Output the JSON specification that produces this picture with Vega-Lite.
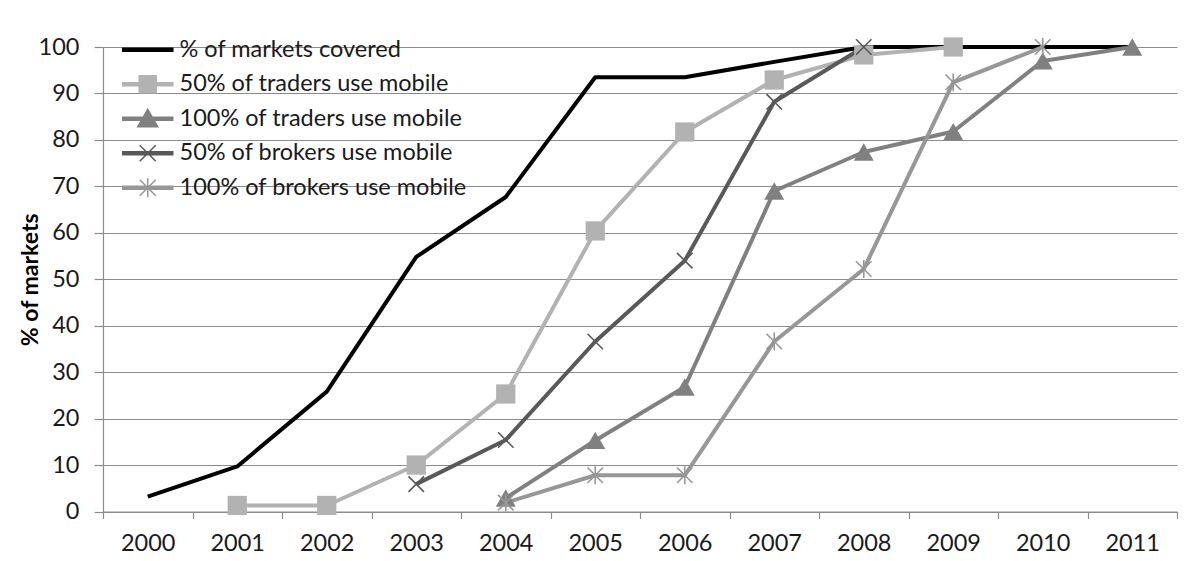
{
  "$schema": "https://vega.github.io/schema/vega-lite/v6.json",
  "autosize": {"type": "none"},
  "padding": {"left": 103, "top": 47, "right": 27, "bottom": 50},
  "width": 1074,
  "height": 464.5,
  "background": "white",
  "config": {
    "font": "Lato",
    "view": {"stroke": null},
    "axis": {
      "domainColor": "#8c8c8c",
      "tickColor": "#8c8c8c",
      "gridColor": "#8c8c8c",
      "domainWidth": 1.2,
      "tickWidth": 1.2,
      "gridWidth": 1.2,
      "labelFont": "Lato",
      "labelFontSize": 23.5,
      "labelColor": "#1a1a1a",
      "titleFont": "Lato",
      "titleColor": "#000000"
    },
    "legend": {"labelFont": "Lato"}
  },
  "data": {
    "values": [
      {"year": "2000", "series": "% of markets covered", "value": 3.2},
      {"year": "2001", "series": "% of markets covered", "value": 9.7},
      {"year": "2002", "series": "% of markets covered", "value": 25.8},
      {"year": "2003", "series": "% of markets covered", "value": 54.8},
      {"year": "2004", "series": "% of markets covered", "value": 67.7},
      {"year": "2005", "series": "% of markets covered", "value": 93.5},
      {"year": "2006", "series": "% of markets covered", "value": 93.5},
      {"year": "2007", "series": "% of markets covered", "value": 96.8},
      {"year": "2008", "series": "% of markets covered", "value": 100},
      {"year": "2009", "series": "% of markets covered", "value": 100},
      {"year": "2010", "series": "% of markets covered", "value": 100},
      {"year": "2011", "series": "% of markets covered", "value": 100},

      {"year": "2001", "series": "50% of traders use mobile", "value": 1.3},
      {"year": "2002", "series": "50% of traders use mobile", "value": 1.3},
      {"year": "2003", "series": "50% of traders use mobile", "value": 10.0},
      {"year": "2004", "series": "50% of traders use mobile", "value": 25.3},
      {"year": "2005", "series": "50% of traders use mobile", "value": 60.4},
      {"year": "2006", "series": "50% of traders use mobile", "value": 81.7},
      {"year": "2007", "series": "50% of traders use mobile", "value": 92.9},
      {"year": "2008", "series": "50% of traders use mobile", "value": 98.3},
      {"year": "2009", "series": "50% of traders use mobile", "value": 100},

      {"year": "2004", "series": "100% of traders use mobile", "value": 2.9},
      {"year": "2005", "series": "100% of traders use mobile", "value": 15.3},
      {"year": "2006", "series": "100% of traders use mobile", "value": 26.8},
      {"year": "2007", "series": "100% of traders use mobile", "value": 69.0},
      {"year": "2008", "series": "100% of traders use mobile", "value": 77.4},
      {"year": "2009", "series": "100% of traders use mobile", "value": 81.8},
      {"year": "2010", "series": "100% of traders use mobile", "value": 97.0},
      {"year": "2011", "series": "100% of traders use mobile", "value": 100},

      {"year": "2003", "series": "50% of brokers use mobile", "value": 5.9},
      {"year": "2004", "series": "50% of brokers use mobile", "value": 15.4},
      {"year": "2005", "series": "50% of brokers use mobile", "value": 36.6},
      {"year": "2006", "series": "50% of brokers use mobile", "value": 54.0},
      {"year": "2007", "series": "50% of brokers use mobile", "value": 88.2},
      {"year": "2008", "series": "50% of brokers use mobile", "value": 100},

      {"year": "2004", "series": "100% of brokers use mobile", "value": 1.9},
      {"year": "2005", "series": "100% of brokers use mobile", "value": 7.8},
      {"year": "2006", "series": "100% of brokers use mobile", "value": 7.8},
      {"year": "2007", "series": "100% of brokers use mobile", "value": 36.6},
      {"year": "2008", "series": "100% of brokers use mobile", "value": 52.2},
      {"year": "2009", "series": "100% of brokers use mobile", "value": 92.4},
      {"year": "2010", "series": "100% of brokers use mobile", "value": 100}
    ]
  },
  "encoding": {
    "x": {
      "field": "year",
      "type": "ordinal",
      "scale": {"type": "band", "paddingInner": 0, "paddingOuter": 0},
      "axis": {
        "title": null,
        "labelAngle": 0,
        "tickBand": "extent",
        "tickSize": 7,
        "labelPadding": 13,
        "grid": false
      }
    },
    "y": {
      "field": "value",
      "type": "quantitative",
      "scale": {"domain": [0, 100], "nice": false},
      "axis": {
        "title": "% of markets",
        "titleFontSize": 23,
        "titleFontWeight": "bold",
        "titlePadding": -4,
        "values": [0, 10, 20, 30, 40, 50, 60, 70, 80, 90, 100],
        "tickSize": 9,
        "labelPadding": 15,
        "grid": true
      }
    },
    "color": {
      "field": "series",
      "type": "nominal",
      "scale": {
        "domain": ["% of markets covered", "50% of traders use mobile", "100% of traders use mobile", "50% of brokers use mobile", "100% of brokers use mobile"],
        "range": ["#000000", "#b2b2b2", "#808080", "#595959", "#979797"]
      },
      "legend": {
        "orient": "none",
        "legendX": 33,
        "legendY": -9,
        "title": null,
        "padding": 0,
        "symbolSize": 400,
        "labelFontSize": 23.5,
        "labelLimit": 500,
        "labelColor": "#1a1a1a",
        "labelOffset": 20,
        "rowPadding": 9.5,
        "encode": {
          "symbols": {
            "update": {
              "shape": {"signal": "datum.value === '% of markets covered' ? 'M-2.5,-0.15H2.5V0.15H-2.5Z' : datum.value === '50% of traders use mobile' ? 'M-2.5,-0.15H2.5V0.15H-2.5ZM-0.85,-0.85H0.85V0.85H-0.85Z' : datum.value === '100% of traders use mobile' ? 'M-2.5,-0.15H2.5V0.15H-2.5ZM0,-0.95L1,0.8H-1Z' : datum.value === '50% of brokers use mobile' ? 'M-2.5,-0.15H2.5V0.15H-2.5ZM-0.8,-0.8L0.8,0.8M-0.8,0.8L0.8,-0.8' : 'M-2.5,-0.15H2.5V0.15H-2.5ZM-0.8,-0.8L0.8,0.8M-0.8,0.8L0.8,-0.8M0,-0.95V0.95'"},
              "fill": {"signal": "datum.value === '% of markets covered' ? '#000000' : datum.value === '50% of traders use mobile' ? '#b2b2b2' : datum.value === '100% of traders use mobile' ? '#808080' : datum.value === '50% of brokers use mobile' ? '#595959' : '#979797'"},
              "stroke": {"signal": "datum.value === '% of markets covered' ? '#000000' : datum.value === '50% of traders use mobile' ? '#b2b2b2' : datum.value === '100% of traders use mobile' ? '#808080' : datum.value === '50% of brokers use mobile' ? '#595959' : '#979797'"},
              "strokeWidth": {"value": 1.5},
              "opacity": {"value": 1},
              "fillOpacity": {"value": 1},
              "strokeOpacity": {"value": 1}
            }
          }
        }
      }
    }
  },
  "layer": [
    {
      "mark": {"type": "line", "strokeWidth": 4, "strokeJoin": "round"}
    },
    {
      "transform": [{"filter": {"field": "series", "equal": "50% of traders use mobile"}}],
      "mark": {"type": "point", "shape": "square", "filled": true, "size": 370, "opacity": 1}
    },
    {
      "transform": [{"filter": {"field": "series", "equal": "100% of traders use mobile"}}],
      "mark": {"type": "point", "shape": "triangle-up", "filled": true, "size": 400, "opacity": 1}
    },
    {
      "transform": [{"filter": {"field": "series", "equal": "50% of brokers use mobile"}}],
      "mark": {"type": "point", "shape": "M-1,-1L1,1M-1,1L1,-1", "filled": false, "size": 240, "strokeWidth": 1.6, "opacity": 1}
    },
    {
      "transform": [{"filter": {"field": "series", "equal": "100% of brokers use mobile"}}],
      "mark": {"type": "point", "shape": "M-1,-1L1,1M-1,1L1,-1M0,-1.15V1.15", "filled": false, "size": 240, "strokeWidth": 1.6, "opacity": 1}
    }
  ]
}
